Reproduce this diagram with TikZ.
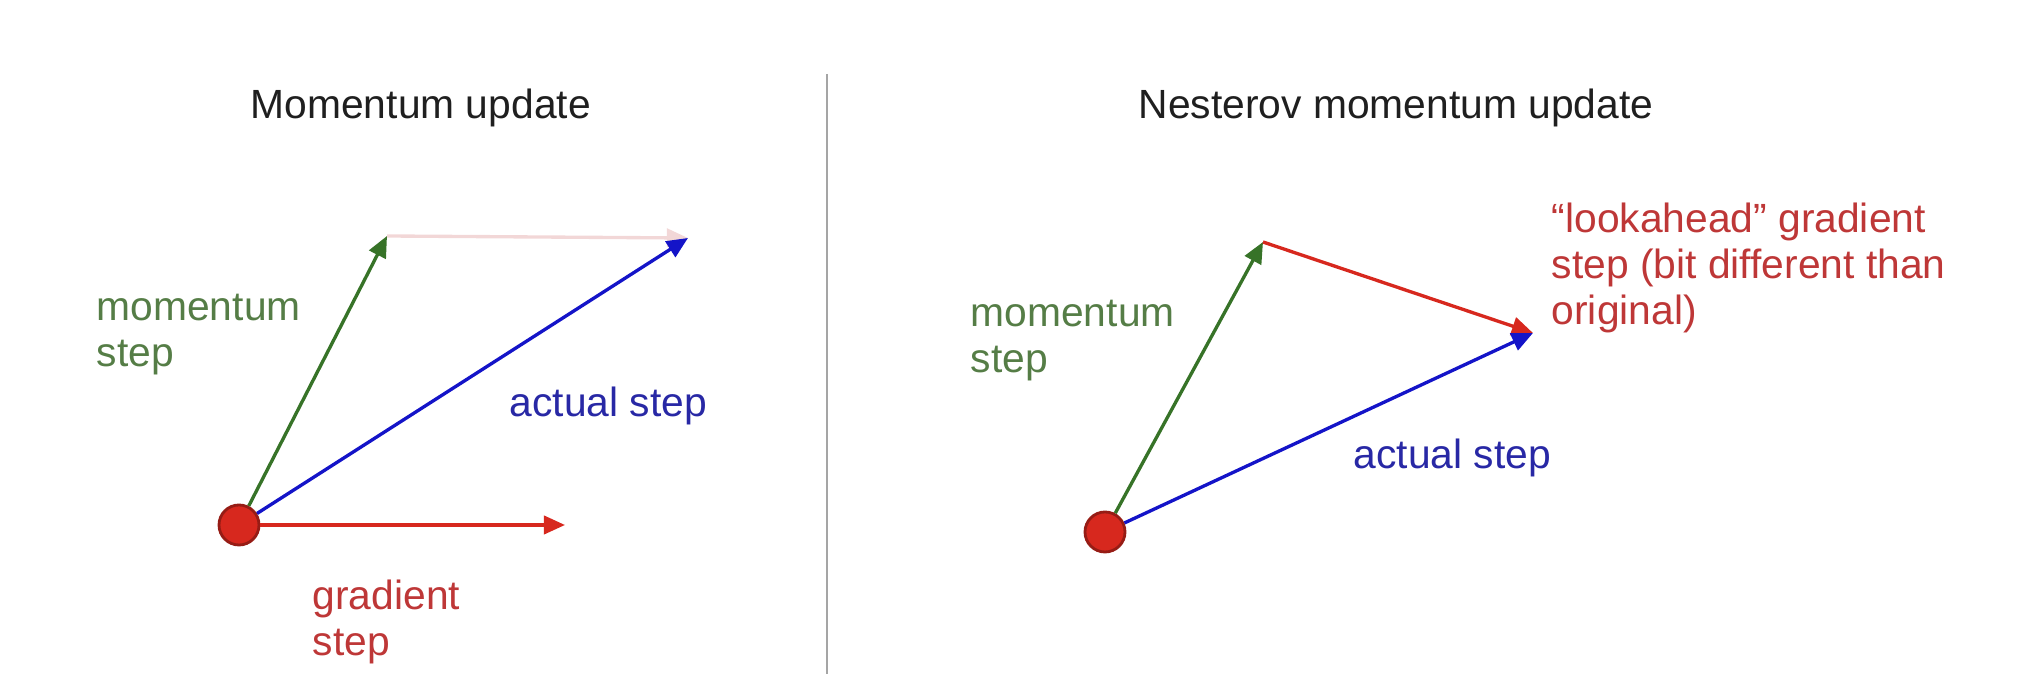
\documentclass[tikz,border=0pt]{standalone}
\usepackage{fontspec}
\setmainfont{Liberation Sans}
\usepackage{xcolor}
\definecolor{colorMomentum}{RGB}{55,115,40}
\definecolor{colorMomentumText}{RGB}{85,125,70}
\definecolor{colorGradient}{RGB}{215,40,30}
\definecolor{colorGradientText}{RGB}{190,55,55}
\definecolor{colorActual}{RGB}{20,20,200}
\definecolor{colorActualText}{RGB}{40,40,165}
\definecolor{colorGhost}{RGB}{242,215,215}
\definecolor{colorDivider}{RGB}{165,165,165}
\usetikzlibrary{arrows.meta, positioning}
\tikzset{
  label text/.style={anchor=base west, inner sep=0pt, align=left, font=\fontsize{11.6pt}{13.1pt}\selectfont},
  start dot/.style={circle, fill=colorGradient, draw=colorGradient!70!black, thick, minimum size=0.4cm, inner sep=0pt},
}

\begin{document}
\begin{tikzpicture}[x=0.01cm, y=-0.01cm, >={Triangle[length=6pt,width=5.2pt]}, line width=0.95pt]
\useasboundingbox (0,0) rectangle (2032,698);
% titles and divider
\node[label text, text=black!88] (titleL) at (249,119) {Momentum update};
\node[label text, text=black!88] (titleR) at (1137,119) {Nesterov momentum update};
\coordinate (divTop) at (827,74);
\coordinate (divBot) at (827,674);
\draw[colorDivider, line width=0.02cm] (divTop) -- (divBot);
% momentum update
\node[start dot] (L) at (239,525) {};
\coordinate (Lmom) at (387,236);
\coordinate (Lact) at (688,238);
\coordinate (Lgrad) at (565,525);
\draw[->, colorGhost] (Lmom) -- (Lact);
\draw[->, colorMomentum] (L) -- (Lmom);
\draw[->, colorActual] (L) -- (Lact);
\draw[->, colorGradient] (L) -- (Lgrad);
\node[label text, text=colorMomentumText] (LmomText) at (95,367) {momentum\\step};
\node[label text, text=colorActualText] (LactText) at (508,417) {actual step};
\node[label text, text=colorGradientText] (LgradText) at (311,656) {gradient\\step};
% nesterov momentum update
\node[start dot] (R) at (1105,532) {};
\coordinate (Rmom) at (1263,242);
\coordinate (Rlook) at (1533,333);
\draw[->, colorMomentum] (R) -- (Rmom);
\draw[->, colorGradient] (Rmom) -- (Rlook);
\draw[->, colorActual] (R) -- (Rlook);
\node[label text, text=colorMomentumText] (RmomText) at (969,373) {momentum\\step};
\node[label text, text=colorActualText] (RactText) at (1352,469) {actual step};
\node[label text, text=colorGradientText] (RlookText) at (1550,325) {“lookahead” gradient\\step (bit different than\\original)};
\end{tikzpicture}
\end{document}
